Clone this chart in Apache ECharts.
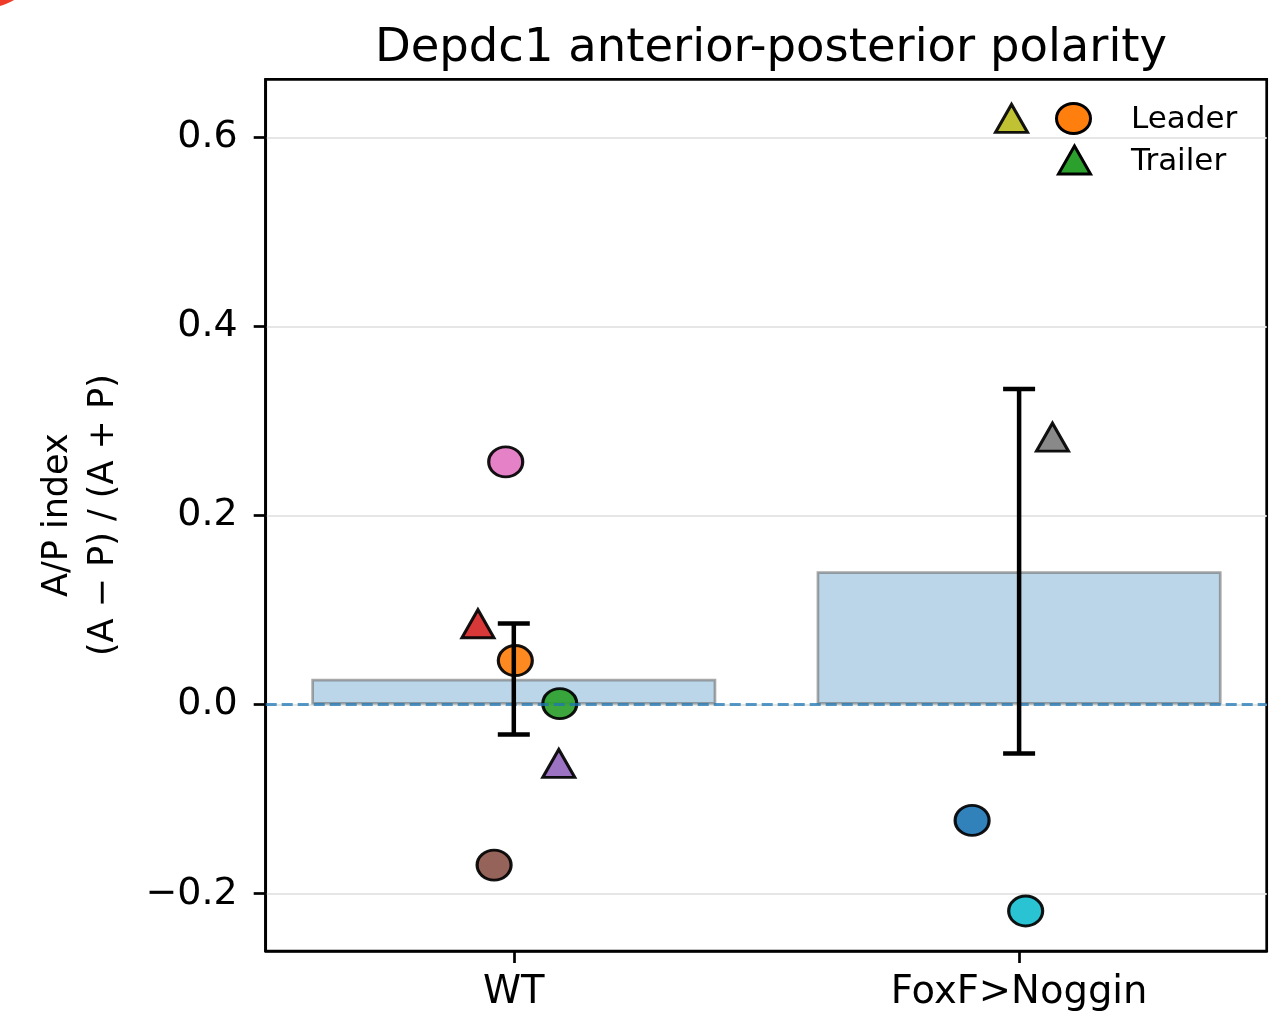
<!DOCTYPE html>
<html><head><meta charset="utf-8">
<script src="https://cdn.jsdelivr.net/npm/echarts@6/dist/echarts.min.js"></script>
<style>html,body{margin:0;padding:0;background:#fff}#c{width:1284px;height:1012px}</style>
</head><body><div id="c"></div>
<script>
// ---- data ----
const categories = ['WT', 'FoxF>Noggin'];
const barMeans = [0.0273, 0.141];
const errLow = [-0.0316, -0.0517];
const errHigh = [0.0857, 0.3337];
const pointGroup = [0, 0, 0, 0, 0, 0, 1, 1, 1, 1];
const pointJitter = [-0.016, -0.071, 0.003, 0.091, 0.089, -0.039, 0.066, -0.015, -0.093, 0.013];
const pointValue = [0.2566, 0.0855, 0.0466, 0.001, -0.0622, -0.1697, 0.2828, 0.620, -0.1225, -0.2183];
const pointRole = ['Leader', 'Trailer', 'Leader', 'Leader', 'Trailer', 'Leader', 'Trailer', 'Trailer', 'Leader', 'Leader'];
const pointEmbryo = [6, 3, 1, 2, 4, 5, 7, 8, 0, 9];
const yTicks = [-0.2, 0, 0.2, 0.4, 0.6];
const legendLabels = ['Leader', 'Trailer'];

// ---- styles ----
const palette = ['#1f77b4','#ff7f0e','#2ca02c','#d62728','#9467bd','#8c564b','#e377c2','#7f7f7f','#bcbd22','#17becf'];
const FONT = 'DejaVu Sans';
const chart = echarts.init(document.getElementById('c'), null, {renderer: 'canvas'});

const scatterData = pointValue.map((v, i) => {
  const leader = pointRole[i] === 'Leader';
  return {
    value: [pointGroup[i] + pointJitter[i], v],
    symbol: leader ? 'circle' : 'triangle',
    symbolSize: leader ? [34, 30] : [32, 28],
    itemStyle: {color: palette[pointEmbryo[i]]}
  };
});

const option = {
  animation: false,
  backgroundColor: '#fff',
  title: {
    text: 'Depdc1 anterior-posterior polarity',
    left: 766, top: 20, textAlign: 'center',
    textStyle: {fontFamily: FONT, fontSize: 46.5, fontWeight: 'normal', color: '#000'}
  },
  grid: {left: 265.7, right: 17.3, top: 79.3, bottom: 60.3, show: true, borderColor: '#000', borderWidth: 2.7, backgroundColor: 'transparent'},
  xAxis: {
    type: 'value', min: -0.491, max: 1.49,
    axisLine: {show: true, onZero: false, lineStyle: {color: '#000', width: 2.7}},
    splitLine: {show: false},
    axisTick: {show: true, customValues: [0, 1], length: 12, lineStyle: {color: '#000', width: 2.7}},
    axisLabel: {customValues: [0, 1], formatter: v => categories[Math.round(v)], fontFamily: FONT, fontSize: 38.5, color: '#000', margin: 22}
  },
  yAxis: {
    type: 'value', min: -0.2606, max: 0.6613,
    axisLine: {show: true, onZero: false, lineStyle: {color: '#000', width: 2.7}},
    axisTick: {show: true, customValues: yTicks, length: 12, lineStyle: {color: '#000', width: 2.7}},
    axisLabel: {customValues: yTicks, formatter: v => (v < 0 ? '\u2212' : '') + Math.abs(v).toFixed(1), fontFamily: FONT, fontSize: 38, color: '#000', margin: 28},
    splitLine: {show: true, lineStyle: {color: '#e6e6e6', width: 2}},
    name: 'A/P index\n(A \u2212 P) / (A + P)',
    nameLocation: 'middle', nameRotate: 90, nameGap: 139,
    nameTextStyle: {fontFamily: FONT, fontSize: 35, lineHeight: 46, color: '#000', align: 'center'}
  },
  series: [
    {
      type: 'bar', z: 2,
      data: barMeans.map((m, i) => [i, m]),
      barWidth: 405,
      itemStyle: {color: 'rgba(31,119,180,0.3)', borderColor: 'rgba(110,110,110,0.6)', borderWidth: 2.7},
      markLine: {
        silent: true, symbol: ['none', 'none'], label: {show: false},
        lineStyle: {type: [11, 5], color: 'rgba(31,119,180,0.75)', width: 3},
        data: [{yAxis: 0}]
      }
    },
    {
      type: 'scatter', z: 4,
      data: scatterData,
      itemStyle: {borderColor: '#000', borderWidth: 3, opacity: 0.92}
    },
    {
      type: 'custom', z: 6,
      data: categories.map((c, i) => [i, errLow[i], errHigh[i]]),
      encode: {x: 0, y: [1, 2]},
      renderItem: function (params, api) {
        const x = api.value(0);
        const pLo = api.coord([x, api.value(1)]);
        const pHi = api.coord([x, api.value(2)]);
        const hw = 16;
        const st = {stroke: '#000', lineWidth: 4.5};
        return {type: 'group', children: [
          {type: 'line', shape: {x1: pLo[0], y1: pLo[1], x2: pHi[0], y2: pHi[1]}, style: st},
          {type: 'line', shape: {x1: pHi[0] - hw, y1: pHi[1], x2: pHi[0] + hw, y2: pHi[1]}, style: st},
          {type: 'line', shape: {x1: pLo[0] - hw, y1: pLo[1], x2: pLo[0] + hw, y2: pLo[1]}, style: st}
        ]};
      }
    }
  ],
  graphic: [
    {type: 'circle', shape: {cx: -20, cy: -60, r: 69}, style: {fill: '#ef3b2a'}, z: 100},
    {type: 'ellipse', shape: {cx: 1073.5, cy: 118.5, rx: 17, ry: 15}, style: {fill: '#ff7f0e', stroke: '#000', lineWidth: 3}, z: 100},
    {type: 'polygon', shape: {points: [[1074.5, 146], [1058.5, 174], [1090.5, 174]]}, style: {fill: '#2ca02c', stroke: '#000', lineWidth: 3}, z: 100},
    {type: 'text', left: 1131, top: 104, style: {text: legendLabels[0], font: '31px "DejaVu Sans"', fill: '#000'}, z: 100},
    {type: 'text', left: 1131, top: 146, style: {text: legendLabels[1], font: '31px "DejaVu Sans"', fill: '#000'}, z: 100}
  ]
};
chart.setOption(option);
</script>
</body></html>
